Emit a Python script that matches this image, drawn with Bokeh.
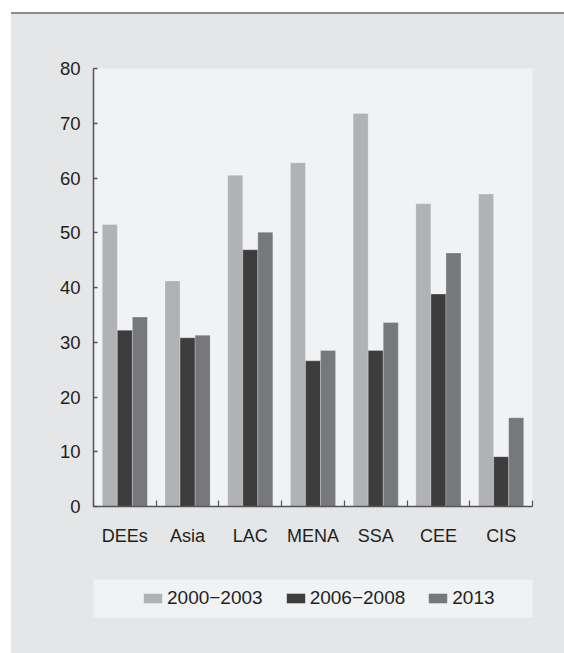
import numpy as np
from bokeh.plotting import figure
from bokeh.layouts import column
from bokeh.models import (ColumnDataSource, Range1d, FixedTicker, Legend, LegendItem)
from bokeh.embed import file_html
from bokeh.resources import INLINE

categories = ["DEEs", "Asia", "LAC", "MENA", "SSA", "CEE", "CIS"]
series_names = ["2000\u22122003", "2006\u22122008", "2013"]
v_2000_2003 = [51.5, 41.2, 60.5, 62.8, 71.8, 55.3, 57.1]
v_2006_2008 = [32.2, 30.8, 46.9, 26.6, 28.5, 38.8, 9.1]
v_2013 = [34.6, 31.3, 50.1, 28.5, 33.6, 46.3, 16.2]
y_ticks = [0, 10, 20, 30, 40, 50, 60, 70, 80]

colors = ["#b1b2b5", "#3d3d3d", "#77787b"]
series = [v_2000_2003, v_2006_2008, v_2013]
offsets = [-0.24, 0.0, 0.24]
bar_w = 0.24

FONT = "Liberation Sans"
TXT = "#231f20"
OUTER = "#e5e6e8"
INNER = "#f1f2f4"

p = figure(width=553, height=556, output_backend="svg", toolbar_location=None,
           x_range=Range1d(0, len(categories)), y_range=Range1d(0, 80),
           min_border_left=82, min_border_right=32, min_border_top=54,
           min_border_bottom=64)
p.border_fill_color = OUTER
p.background_fill_color = INNER
p.outline_line_color = None
p.xgrid.visible = False
p.ygrid.visible = False

centers = np.arange(len(categories)) + 0.5
sources = []
for vals, col, off in zip(series, colors, offsets):
    src = ColumnDataSource(dict(x=centers + off, top=vals))
    sources.append(src)
    p.vbar(x="x", top="top", bottom=0, width=bar_w, source=src,
           fill_color=col, line_color="#ffffff", line_alpha=0.25, line_width=1)

# y axis
ya = p.yaxis[0]
ya.ticker = FixedTicker(ticks=y_ticks, minor_ticks=[])
ya.axis_line_color = "#555555"
ya.axis_line_width = 1.5
ya.major_tick_in = 4
ya.major_tick_out = 0
ya.major_tick_line_color = "#555555"
ya.major_tick_line_width = 1.5
ya.minor_tick_line_color = None
ya.major_label_standoff = 13
ya.major_label_text_font = FONT
ya.major_label_text_font_size = "18.5px"
ya.major_label_text_color = TXT

# x axis: labels at category centres, ticks at category boundaries
xa = p.xaxis[0]
xa.ticker = FixedTicker(ticks=list(centers), minor_ticks=list(range(len(categories) + 1)))
xa.major_label_overrides = {float(c): name for c, name in zip(centers, categories)}
xa.axis_line_color = "#555555"
xa.axis_line_width = 1.5
xa.major_tick_line_color = None
xa.minor_tick_in = 6
xa.minor_tick_out = 0
xa.minor_tick_line_color = "#555555"
xa.minor_tick_line_width = 1.2
xa.major_label_standoff = 13
xa.major_label_text_font = FONT
xa.major_label_text_font_size = "18px"
xa.major_label_text_color = TXT

# legend panel
lg = figure(width=553, height=83, output_backend="svg", toolbar_location=None,
            x_range=Range1d(0, 1), y_range=Range1d(0, 1),
            x_axis_type=None, y_axis_type=None,
            min_border_left=82, min_border_right=32, min_border_top=9,
            min_border_bottom=36)
lg.border_fill_color = OUTER
lg.background_fill_color = INNER
lg.outline_line_color = None
lg.xgrid.visible = False
lg.ygrid.visible = False
swatches = []
for src, col in zip(sources, colors):
    swatches.append(lg.vbar(x="x", top="top", bottom=0, width=bar_w, source=src,
                            fill_color=col, line_color=None, visible=False))

legend = Legend(items=[LegendItem(label=n, renderers=[r]) for n, r in zip(series_names, swatches)],
                orientation="horizontal", location=(48, 8),
                background_fill_alpha=0, border_line_color=None,
                padding=0, margin=0, spacing=21, label_standoff=3,
                glyph_width=23, glyph_height=12,
                label_text_font=FONT, label_text_font_size="19px",
                label_text_color=TXT)
lg.add_layout(legend, "center")

layout = column(p, lg, spacing=0, margin=(12, 0, 0, 11),
                styles={"border-top": "2px solid #8c8c8c", "background-color": OUTER})
open("out.html", "w").write(file_html(layout, INLINE))
